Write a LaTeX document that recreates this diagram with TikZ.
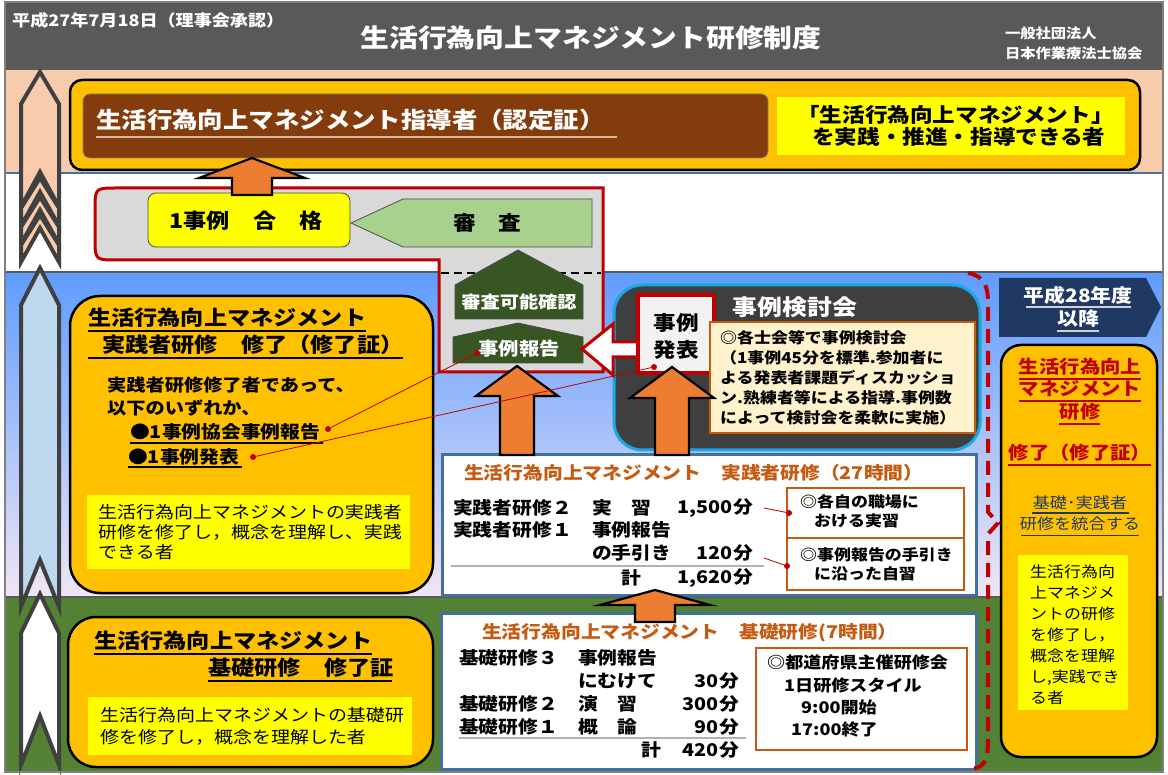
\documentclass[tikz,border=0pt]{standalone}
\usepackage{fontspec}
\setmainfont{Noto Sans CJK JP}[FakeStretch=1.13]
\definecolor{hdr}{HTML}{595959}
\definecolor{peach}{HTML}{F8CBAD}
\definecolor{bandtop}{HTML}{5E9CFF}
\definecolor{bandmid}{HTML}{A9C9F2}
\definecolor{bandbot}{HTML}{F1E6F4}
\definecolor{grn}{HTML}{548235}
\definecolor{orng}{HTML}{FFC000}
\definecolor{yel}{HTML}{FFFF00}
\definecolor{brn}{HTML}{843C0C}
\definecolor{lgrn}{HTML}{A9D18E}
\definecolor{dgrn}{HTML}{375623}
\definecolor{arrOr}{HTML}{ED7D31}
\definecolor{redc}{HTML}{C00000}
\definecolor{navy}{HTML}{203864}
\definecolor{beige}{HTML}{FFF2CC}
\definecolor{rust}{HTML}{C55A11}
\definecolor{steel}{HTML}{41719C}
\definecolor{dbox}{HTML}{3F3F3F}
\definecolor{cyanb}{HTML}{18A8E4}
\definecolor{lgray}{HTML}{D9D9D9}
\definecolor{colgray}{HTML}{404040}
\definecolor{colblue}{HTML}{BDD7EE}
\definecolor{bluetxt}{HTML}{1F3864}
\definecolor{ulbrown}{HTML}{D9B99B}
\newcommand\fsz[2]{\fontsize{#1}{#2}\selectfont}
\newcommand\chev[5]{\draw[colarr, fill=#1] (40,#2) -- (59,#3) -- (59,#4) -- (40,#5) -- (21,#4) -- (21,#3) -- cycle;}
\newcommand\uparr[6]{\draw[orarrow] (#1,#2) -- ({#1+#5},#3) -- ({#1+#6},#3) -- ({#1+#6},#4) -- ({#1-#6},#4) -- ({#1-#6},#3) -- ({#1-#5},#3) -- cycle;}
\tikzset{
  lbl/.style={inner sep=0pt, anchor=west, font=\bfseries\fsz{#1}{#1}},
  lblr/.style={inner sep=0pt, anchor=east, font=\bfseries\fsz{#1}{#1}},
  lblc/.style={inner sep=0pt, font=\bfseries\fsz{#1}{#1}},
  regc/.style={inner sep=0pt, font=\fsz{#1}{#1}},
  colarr/.style={draw=colgray, line width=4pt, line join=miter},
  orarrow/.style={fill=arrOr, draw=black, line width=2.2pt, line join=miter},
  obox/.style={draw=black, line width=2.5pt, fill=orng},
  ybox/.style={fill=yel, inner sep=0pt},
  tbox/.style={draw=steel, line width=3pt, fill=white, inner sep=0pt},
  sbox/.style={draw=rust, line width=2pt, fill=white, inner sep=0pt},
  dot/.style={circle, fill=redc, inner sep=0pt, minimum size=6pt},
  conn/.style={draw=redc, line width=0.8pt},
  ul/.style={line width=1.4pt}
}
\begin{document}
\begin{tikzpicture}[x=1pt,y=-1pt]
\useasboundingbox (0,0) rectangle (1168,775);
\fill[white] (0,0) rectangle (1168,775);
% bands
\fill[hdr] (5,2) rectangle (1163,70);
\fill[peach] (5,70) rectangle (1163,173);
\fill[white] (5,173) rectangle (1163,272);
\shade[top color=bandtop, middle color=bandmid, bottom color=bandbot] (5,272) rectangle (1163,597);
\fill[grn] (5,597) rectangle (1163,772);
\draw[line width=1.2pt, steel] (5,173) -- (1163,173);
\draw[line width=2.5pt, hdr] (5,272) -- (1163,272);
\draw[line width=2pt, hdr] (5,597) -- (1163,597);
% header
\node[lbl=16, text=white] (date) at (12,20) {平成27年7月18日（理事会承認）};
\node[lblc=25.5, text=white] (title) at (591,38) {生活行為向上マネジメント研修制度};
\node[lbl=13.5, text=white] (org1) at (1005,33) {一般社団法人};
\node[lbl=13.5, text=white] (org2) at (1005,53) {日本作業療法士協会};
% left column arrows
\chev{peach}{72}{104}{207}{172}
\chev{peach}{178}{208}{226}{192}
\chev{peach}{197}{227}{244}{210}
\chev{peach}{215}{245}{262}{228}
\chev{colblue}{268}{305}{607}{560}
\chev{white}{594}{633}{765}{716}
% top box
\node[obox, rounded corners=12pt, minimum width=1070pt, minimum height=90pt] (topbox) at (605,125) {};
\node[fill=brn, draw=gray, line width=0.8pt, rounded corners=7pt, minimum width=685pt, minimum height=64pt] (brown) at (425.5,126) {};
\node[lbl=22.5, text=white] (lead) at (96,120) {生活行為向上マネジメント指導者（認定証）};
\draw[ulbrown, ul] (96,137) -- (617,137);
\node[ybox, minimum width=348pt, minimum height=58pt] (ytop) at (951,126) {};
\node[lbl=20] (ytop1) at (797,115) {「生活行為向上マネジメント」};
\node[lbl=20] (ytop2) at (812,137) {を実践・推進・指導できる者};
% review L-shape
\draw[redc, line width=3pt, fill=lgray] (603,188) -- (117,188) .. controls (95,188) .. (95,210) -- (95,238) .. controls (95,260) .. (117,260) -- (439,260) -- (439,372) -- (603,372) -- cycle;
\draw[black, line width=1.5pt, dash pattern=on 8pt off 5pt] (441,273) -- (601,273);
\node[fill=yel, draw=black!70, line width=0.8pt, rounded corners=8pt, minimum width=202pt, minimum height=54pt] (pass) at (249,220) {};
\node[lblc=20.5] (passtxt) at (246,221) {1事例　合　格};
\draw[fill=lgrn, draw=black!70, line width=0.8pt] (351,223) -- (403,199) -- (592,199) -- (592,247) -- (403,247) -- cycle;
\node[lblc=20] (shinsa) at (487,223) {審　査};
\draw[fill=dgrn, draw=black!70, line width=0.8pt] (518,250) -- (583,285) -- (583,319) -- (455,319) -- (455,285) -- cycle;
\node[lblc=17, text=white] (kanou) at (519,302) {審査可能確認};
\draw[fill=dgrn, draw=black!70, line width=0.8pt] (518,323) -- (583,337) -- (583,363) -- (453,363) -- (453,337) -- cycle;
\node[lblc=18, text=white] (hokoku) at (519,349) {事例報告};
% case conference
\node[fill=dbox, draw=cyanb, line width=3pt, rounded corners=28pt, minimum width=366pt, minimum height=165pt] (kentou) at (797,367.5) {};
\node[lblc=22, text=white] (kentoutxt) at (795,307) {事例検討会};
\draw[fill=white, draw=redc, line width=3pt, line join=miter] (582,349) -- (613,324) -- (613,342) -- (645,342) -- (645,357) -- (613,357) -- (613,375) -- cycle;
\node[fill=black!5, draw=redc, line width=3.5pt, minimum width=76pt, minimum height=78pt, inner sep=0pt] (happyo) at (676,334) {};
\node[lblc=20, align=center, font=\bfseries\fsz{20}{27}] (happyotxt) at (676,336) {事例\\発表};
\node[fill=beige, draw=rust, line width=2pt, minimum width=265pt, minimum height=111pt, inner sep=0pt] (beige) at (842.5,377.5) {};
\node[inner sep=0pt, anchor=west, align=left, font=\bfseries\fsz{15}{20}] (beigetxt) at (720,378) {◎各士会等で事例検討会\\（1事例45分を標準.参加者に\\よる発表者課題ディスカッショ\\ン.熟練者等による指導.事例数\\によって検討会を柔軟に実施）};
% practitioner certificate box
\node[obox, rounded corners=30pt, minimum width=363pt, minimum height=297pt] (prac) at (251.5,444.5) {};
\node[lbl=20.5] (prac1) at (88,318) {生活行為向上マネジメント};
\draw[ul] (88,331) -- (366,331);
\node[lbl=20.5] (prac2) at (102,345) {実践者研修　修了（修了証）};
\draw[ul] (88,358) -- (403,358);
\node[lbl=17] (prac3) at (107,385) {実践者研修修了者であって、};
\node[lbl=17] (prac4) at (107,408) {以下のいずれか、};
\node[lbl=17.5] (prac5) at (130,432) {●1事例協会事例報告};
\draw[ul] (130,443) -- (323,443);
\node[lbl=17.5] (prac6) at (128,457) {●1事例発表};
\draw[ul] (128,467) -- (242,467);
\node[ybox, minimum width=323pt, minimum height=74pt] (pracy) at (248.5,532) {};
\node[inner sep=0pt, anchor=west, align=left, font=\fsz{16.8}{20}] (pracytxt) at (98,532) {生活行為向上マネジメントの実践者\\研修を修了し，概念を理解し、実践\\できる者};
% basic certificate box
\node[obox, rounded corners=28pt, minimum width=365pt, minimum height=150pt] (basic) at (250.5,692) {};
\node[lbl=20.5] (basic1) at (94,641) {生活行為向上マネジメント};
\draw[ul] (94,654) -- (372,654);
\node[lbl=20.5] (basic2) at (208,668) {基礎研修　修了証};
\draw[ul] (208,681) -- (392,681);
\node[ybox, minimum width=324pt, minimum height=58pt] (basicy) at (250,726) {};
\node[inner sep=0pt, anchor=west, align=left, font=\fsz{16.8}{22}] (basicytxt) at (100,726) {生活行為向上マネジメントの基礎研\\修を修了し，概念を理解した者};
% practitioner training table
\node[tbox, minimum width=534pt, minimum height=140pt] (ptab) at (709,525) {};
\node[lbl=17.5, text=rust] (ptabt) at (464,473) {生活行為向上マネジメント　実践者研修（27時間）};
\node[lbl=17.5] (pr1a) at (453,508) {実践者研修２};
\node[lbl=17.5] (pr1b) at (592,508) {実　習};
\node[lblr=17.5] (pr1c) at (753,508) {1,500分};
\node[lbl=17.5] (pr2a) at (453,530) {実践者研修１};
\node[lbl=17.5] (pr2b) at (592,530) {事例報告};
\node[lbl=17.5] (pr3b) at (592,553) {の手引き};
\node[lblr=17.5] (pr3c) at (753,553) {120分};
\draw[gray!60, line width=1.5pt] (451,566) -- (764,566);
\node[lbl=17.5] (pr4b) at (621,578) {計};
\node[lblr=17.5] (pr4c) at (753,578) {1,620分};
\node[sbox, minimum width=177pt, minimum height=50pt] (sa) at (875.5,513) {};
\node[lbl=15] (sa1) at (800,502) {◎各自の職場に};
\node[lbl=15] (sa2) at (814,521) {おける実習};
\node[sbox, minimum width=177pt, minimum height=52pt] (sb) at (875.5,564) {};
\node[lbl=15] (sb1) at (800,555) {◎事例報告の手引き};
\node[lbl=15] (sb2) at (814,574) {に沿った自習};
% basic training table
\node[tbox, minimum width=535pt, minimum height=156pt] (btab) at (708.5,691) {};
\node[lbl=17.5, text=rust] (btabt) at (482,633) {生活行為向上マネジメント　基礎研修(7時間）};
\node[lbl=17.5] (br1a) at (459,658) {基礎研修３};
\node[lbl=17.5] (br1b) at (578,658) {事例報告};
\node[lbl=17.5] (br2b) at (578,681) {にむけて};
\node[lblr=17.5] (br2c) at (739,681) {30分};
\node[lbl=17.5] (br3a) at (459,704) {基礎研修２};
\node[lbl=17.5] (br3b) at (578,704) {演　習};
\node[lblr=17.5] (br3c) at (739,704) {300分};
\node[lbl=17.5] (br4a) at (459,727) {基礎研修１};
\node[lbl=17.5] (br4b) at (578,727) {概　論};
\node[lblr=17.5] (br4c) at (739,727) {90分};
\draw[gray!60, line width=1.5pt] (459,738) -- (746,738);
\node[lbl=17.5] (br5b) at (641,750) {計};
\node[lblr=17.5] (br5c) at (739,750) {420分};
\node[sbox, minimum width=211pt, minimum height=102pt] (sc) at (861.5,699) {};
\node[lbl=16] (sc1) at (767,662) {◎都道府県主催研修会};
\node[lbl=16] (sc2) at (784,685) {1日研修スタイル};
\node[lbl=16] (sc3) at (801,707) {9:00開始};
\node[lbl=16] (sc4) at (791,730) {17:00終了};
% orange block arrows
\uparr{252}{158}{178}{195}{53}{20}
\uparr{517}{366}{396}{455}{41}{17}
\uparr{672}{367}{398}{455}{42}{17}
\uparr{655}{590}{605}{622}{55}{20}
% right side
\draw[redc, line width=4pt, dash pattern=on 14pt off 8pt] (968,273) .. controls (986,276) and (988,290) .. (988,302) -- (988,512) -- (998,523) -- (988,534) -- (988,740) .. controls (988,760) and (985,768) .. (970,769);
\draw[fill=navy, draw=none] (999,278) -- (1146,278) -- (1161,307) -- (1146,337) -- (999,337) -- cycle;
\node[lblc=18.5, text=white] (h28a) at (1078,295) {平成28年度};
\draw[gray!35, ul] (1026,307) -- (1131,307);
\node[lblc=18.5, text=white] (h28b) at (1078,319) {以降};
\draw[gray!35, ul] (1057,331) -- (1099,331);
\node[obox, rounded corners=20pt, minimum width=156pt, minimum height=412pt] (rbox) at (1079,551) {};
\node[lblc=18, text=redc] (r1) at (1080,367) {生活行為向上};
\draw[redc, ul] (1019,379) -- (1141,379);
\node[lblc=18, text=redc] (r2) at (1080,389) {マネジメント};
\draw[redc, ul] (1019,401) -- (1141,401);
\node[lblc=18, text=redc] (r3) at (1080,412) {研修};
\draw[redc, ul] (1059,424) -- (1100,424);
\node[lblc=18, text=redc] (r4) at (1080,453) {修了（修了証）};
\draw[redc, ul] (1008,465) -- (1151,465);
\node[regc=15.2, text=bluetxt] (r5) at (1080,503) {基礎･実践者};
\draw[bluetxt, line width=1pt] (1032,513) -- (1129,513);
\node[regc=15.2, text=bluetxt] (r6) at (1080,524) {研修を統合する};
\draw[bluetxt, line width=1pt] (1021,535) -- (1139,535);
\node[ybox, minimum width=110pt, minimum height=155pt] (ry) at (1073,632.5) {};
\node[inner sep=0pt, anchor=west, align=left, font=\fsz{15}{21}] (rytxt) at (1030,635) {生活行為向\\上マネジメ\\ントの研修\\を修了し，\\概念を理解\\し,実践でき\\る者};
% connectors
\node[dot] (dA) at (477,353) {};
\node[dot] (dB) at (328,429) {};
\draw[conn] (dA) -- (dB);
\node[dot] (dC) at (654,367) {};
\node[dot] (dD) at (253,457) {};
\draw[conn] (dC) -- (dD);
\coordinate (cA) at (764,508);
\node[dot] (dE) at (789,513) {};
\draw[conn] (cA) -- (dE);
\coordinate (cB) at (764,558);
\node[dot] (dF) at (787,566) {};
\draw[conn] (cB) -- (dF);
% frame
\draw[line width=2pt, gray] (5,2) rectangle (1163,772);
\end{tikzpicture}
\end{document}
